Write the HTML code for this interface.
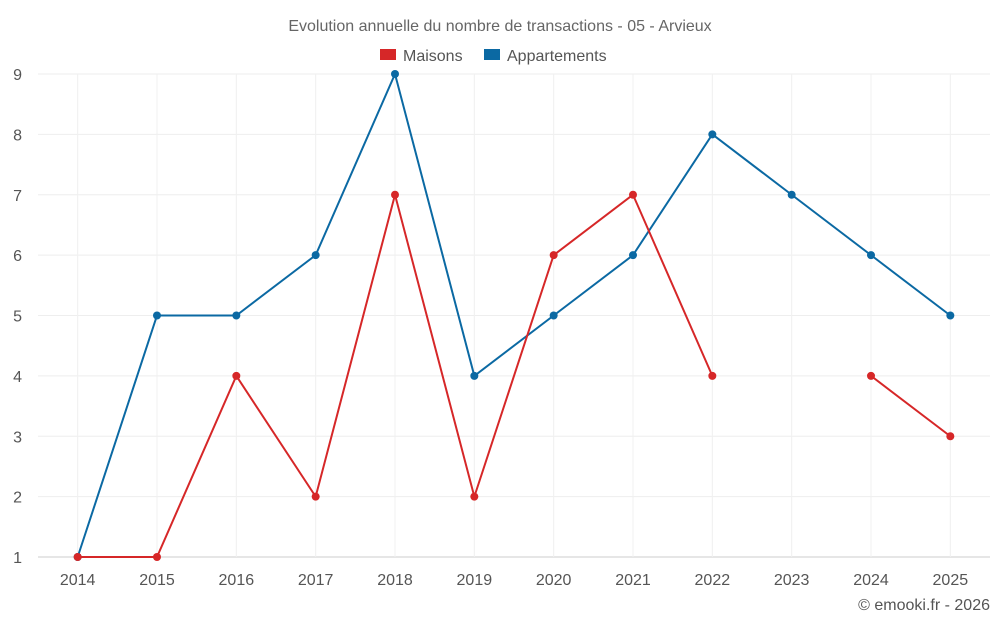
<!DOCTYPE html>
<html><head><meta charset="utf-8"><style>
body{margin:0;background:#fff;font-family:"Liberation Sans",sans-serif;}
svg text{font-family:"Liberation Sans",sans-serif;}
</style></head><body>
<svg id="c" width="1000" height="625">
<text x="500" y="31" text-anchor="middle" font-size="16" fill="#666">Evolution annuelle du nombre de transactions - 05 - Arvieux</text>
<g><rect x="380" y="49" width="16" height="11" fill="#d62728"/><text x="403" y="61" font-size="16" fill="#555">Maisons</text></g>
<g><rect x="484" y="49" width="16" height="11" fill="#0b69a3"/><text x="507" y="61" font-size="16" fill="#555">Appartements</text></g>
<g id="grid"></g><g id="axes"></g><g id="series"></g>
<text x="990" y="610" text-anchor="end" font-size="16" fill="#555">© emooki.fr - 2026</text>
</svg>
<script>
const years=["2014","2015","2016","2017","2018","2019","2020","2021","2022","2023","2024","2025"];
const maisons=[1,1,4,2,7,2,6,7,4,null,4,3];
const appartements=[1,5,5,6,9,4,5,6,8,7,6,5];
const yTicks=[1,2,3,4,5,6,7,8,9];
const L=38,R=990,T=74,B=557,yMin=1,yMax=9;
const bw=(R-L)/years.length;
const xs=i=>L+bw*(i+0.5);
const ys=v=>B-(v-yMin)/(yMax-yMin)*(B-T);
const NS="http://www.w3.org/2000/svg";
function mk(t,a,p){const e=document.createElementNS(NS,t);for(const k in a)e.setAttribute(k,a[k]);p.appendChild(e);return e;}
const g=document.getElementById('grid'),ax=document.getElementById('axes'),s=document.getElementById('series');
yTicks.forEach(v=>{
 const l=mk('line',{x1:L,x2:R,y1:ys(v),y2:ys(v),stroke:v===yMin?'#ccc':'#eee'},g);
 
 
 const t=mk('text',{x:22,y:ys(v)+6,'text-anchor':'end','font-size':16,fill:'#555'},ax);t.textContent=v;
 
 
});
years.forEach((y,i)=>{
 const l=mk('line',{x1:xs(i),x2:xs(i),y1:T,y2:B,stroke:'#f0f0f0'},g);
 
 
 const t=mk('text',{x:xs(i),y:585,'text-anchor':'middle','font-size':16,fill:'#555'},ax);t.textContent=y;
 
 
});
function draw(data,color,name){
 let d='',pen=false;
 data.forEach((v,i)=>{if(v==null){pen=false;return;}d+=(pen?'L':'M')+xs(i)+' '+ys(v)+' ';pen=true;});
 const p=mk('path',{d:d,fill:'none',stroke:color,'stroke-width':2},s);
 
 
 data.forEach((v,i)=>{if(v==null)return;
  const c=mk('circle',{cx:xs(i),cy:ys(v),r:4,fill:color},s);
  
  
 });
}
draw(appartements,'#0b69a3','appartements');
draw(maisons,'#d62728','maisons');
</script>
</body></html>
